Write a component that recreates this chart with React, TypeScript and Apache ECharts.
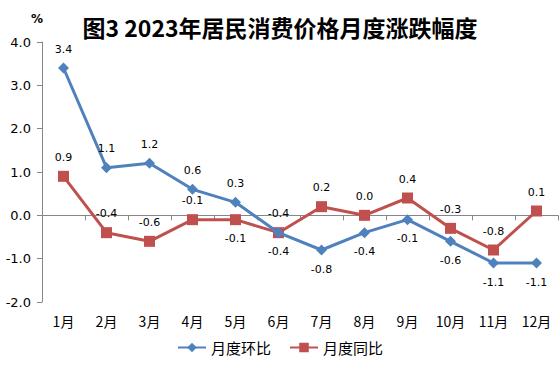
import React, { useEffect, useRef } from "react";
import * as echarts from "echarts";

const months = ["1月", "2月", "3月", "4月", "5月", "6月", "7月", "8月", "9月", "10月", "11月", "12月"];
const momValues = [3.4, 1.1, 1.2, 0.6, 0.3, -0.4, -0.8, -0.4, -0.1, -0.6, -1.1, -1.1];
const yoyValues = [0.9, -0.4, -0.6, -0.1, -0.1, -0.4, 0.2, 0.0, 0.4, -0.3, -0.8, 0.1];
const momLabelPos = ["top", "top", "top", "top", "top", "bottom", "bottom", "bottom", "bottom", "bottom", "bottom", "bottom"];
const yoyLabelPos = ["top", "top", "top", "top", "bottom", "top", "top", "top", "top", "top", "top", "top"];
const yTicks = { min: -2, max: 4, interval: 1 };

const BLUE = "#4F81BD";
const RED = "#C0504D";
const AXIS = "#868686";
const FONT = "DejaVu Sans";

export default function App() {
  const ref = useRef<HTMLDivElement>(null);
  useEffect(() => {
    document.body.style.margin = "0";
    const chart = echarts.init(ref.current!, null, { renderer: "svg" });
    const labelStyle = {
      show: true,
      distance: 8,
      color: "#000",
      fontFamily: FONT,
      fontSize: 11,
      formatter: (p: any) => Number(p.value).toFixed(1),
    };
    chart.setOption({
      animation: false,
      backgroundColor: "#fff",
      title: {
        text: "图3 2023年居民消费价格月度涨跌幅度",
        left: "center",
        top: 10,
        textStyle: {
          fontFamily: "Noto Sans CJK SC",
          fontWeight: "bold",
          fontSize: 23,
          color: "#000",
        },
      },
      graphic: [
        {
          type: "text",
          x: 37,
          y: 19,
          style: {
            text: "%",
            fontFamily: FONT,
            fontWeight: "bold",
            fontSize: 12,
            fill: "#000",
            align: "center",
            verticalAlign: "middle",
          },
        },
      ],
      legend: {
        bottom: 16,
        left: "center",
        itemWidth: 28,
        itemHeight: 12,
        itemGap: 18,
        textStyle: { fontFamily: "Noto Sans CJK SC", fontSize: 15, color: "#000" },
        data: ["月度环比", "月度同比"],
      },
      grid: { left: 42, right: 2, top: 42, bottom: 74 },
      xAxis: {
        type: "category",
        data: months,
        boundaryGap: true,
        axisLine: { lineStyle: { color: AXIS, width: 1 } },
        axisTick: { show: true, length: 5, lineStyle: { color: AXIS } },
        axisLabel: { color: "#000", fontFamily: "Noto Sans CJK SC", fontSize: 14, margin: 12 },
      },
      yAxis: {
        type: "value",
        min: yTicks.min,
        max: yTicks.max,
        interval: yTicks.interval,
        splitLine: { show: false },
        axisLine: { show: true, lineStyle: { color: AXIS, width: 1 } },
        axisTick: { show: true, length: 5, lineStyle: { color: AXIS } },
        axisLabel: {
          color: "#000",
          fontFamily: FONT,
          fontSize: 13,
          margin: 11,
          formatter: (v: number) => v.toFixed(1),
        },
      },
      series: [
        {
          name: "月度环比",
          type: "line",
          data: momValues.map((v, i) => ({ value: v, label: { position: momLabelPos[i] } })),
          symbol: "diamond",
          symbolSize: 11,
          lineStyle: { color: BLUE, width: 3 },
          itemStyle: { color: BLUE },
          label: labelStyle,
          z: 3,
        },
        {
          name: "月度同比",
          type: "line",
          data: yoyValues.map((v, i) => ({ value: v, label: { position: yoyLabelPos[i] } })),
          symbol: "rect",
          symbolSize: 11,
          lineStyle: { color: RED, width: 3 },
          itemStyle: { color: RED },
          label: labelStyle,
          z: 2,
        },
      ],
    });
    return () => chart.dispose();
  }, []);
  return <div ref={ref} style={{ position: "fixed", left: 0, top: 0, width: 560, height: 376 }} />;
}
